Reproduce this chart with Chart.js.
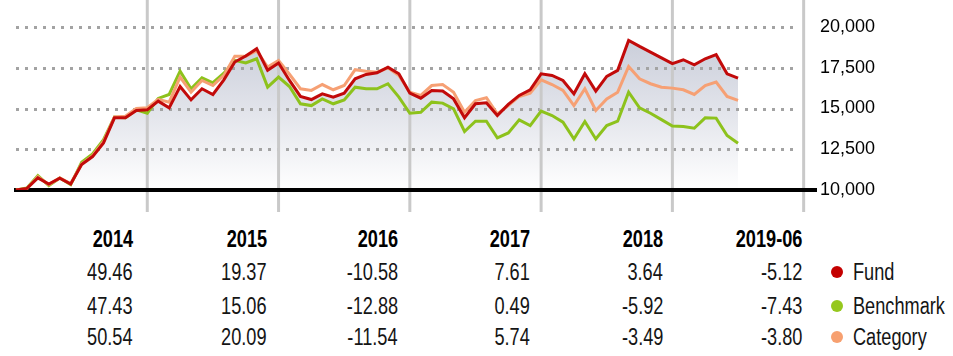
<!DOCTYPE html>
<html>
<head>
<meta charset="utf-8">
<script src="https://cdn.jsdelivr.net/npm/chart.js@4.4.0/dist/chart.umd.min.js"></script>
<style>
html,body{margin:0;padding:0;background:#fff;width:953px;height:356px;overflow:hidden;}
#wrap{position:absolute;left:0;top:0;width:953px;height:216px;}
.t{position:absolute;font-family:"Liberation Sans",Arial,sans-serif;font-size:23px;line-height:26px;color:#151515;text-align:right;white-space:nowrap;transform:scaleX(0.79);transform-origin:100% 50%;}
.h{font-weight:bold;color:#000;}
.lg{position:absolute;font-family:"Liberation Sans",Arial,sans-serif;font-size:23px;line-height:26px;color:#151515;white-space:nowrap;transform:scaleX(0.79);transform-origin:0 50%;}
.dot{position:absolute;width:12px;height:12px;border-radius:50%;}
</style>
</head>
<body>
<div id="wrap"><canvas id="c" width="953" height="216"></canvas></div>
<div id="table"></div>
<script>
// ---- data ----
const years = ['2014', '2015', '2016', '2017', '2018', '2019-06'];
const fundReturns = ['49.46', '19.37', '-10.58', '7.61', '3.64', '-5.12'];
const benchmarkReturns = ['47.43', '15.06', '-12.88', '0.49', '-5.92', '-7.43'];
const categoryReturns = ['50.54', '20.09', '-11.54', '5.74', '-3.49', '-3.80'];
const seriesNames = ['Fund', 'Benchmark', 'Category'];
const yTicks = [10000, 12500, 15000, 17500, 20000];

// growth of 10,000, month-end values from 2013-12 to 2019-06
const fund = [10000,10100,10740,10370,10720,10370,11560,12050,12890,14430,14430,14880,14920,15450,
  15040,16350,15530,16210,15860,16760,17850,18220,18670,17340,17790,
  16720,15740,15550,15900,15700,15940,16820,17090,17190,17540,17130,15940,
  15630,16110,16070,15590,14430,15290,15350,14570,15250,15800,16150,17130,
  17030,16720,15900,17130,16070,16970,17340,19180,18810,18460,18110,17750,
  17990,17680,18050,18300,17130,16860];
const benchmark = [10000,10120,10880,10270,10740,10330,11700,12210,13090,14470,14430,14920,14710,15620,
  15860,17290,16210,16880,16580,17170,17950,17790,18050,16310,16930,
  16350,15290,15180,15590,15290,15530,16310,16210,16210,16520,15700,14710,
  14770,15390,15330,14980,13590,14220,14220,13200,13500,14300,13950,14840,
  14570,14160,13130,14200,13130,13950,14220,16000,15040,14710,14320,13930,
  13890,13790,14430,14410,13340,12870];
const category = [10000,10080,10820,10330,10740,10400,11600,12100,12980,14480,14520,15000,15050,15560,
  15390,16930,16000,16720,16410,17030,18200,18200,18550,17540,17950,
  17100,16210,16110,16470,16150,16410,17380,17290,17230,17500,17030,16000,
  15800,16410,16470,16000,14770,15490,15660,14670,15180,15740,15940,16760,
  16470,16110,15180,16210,14880,15590,16000,17580,16820,16520,16310,16250,
  16150,15860,16410,16620,15740,15500];

const colors = {fund:'#c20a0a', benchmark:'#8dc21c', category:'#f6a074'};
const dotColors = ['#c40000', '#96c81e', '#f7a070'];

const pts = arr => arr.map((v, i) => ({x: i, y: v}));

const guides = {
  id: 'guides',
  beforeDatasetDraw(chart, args) {
    if (args.index !== chart.data.datasets.length - 1) return;
    const c = chart.ctx, xs = chart.scales.x, ys = chart.scales.y, ca = chart.chartArea;
    c.save();
    // dotted horizontal lines
    c.strokeStyle = '#a3a3a3';
    c.lineWidth = 3;
    c.setLineDash([3, 6]);
    yTicks.slice(1).forEach(v => {
      const y = Math.round(ys.getPixelForValue(v)) + 0.5;
      c.beginPath(); c.moveTo(ca.left + 2, y); c.lineTo(ca.right - 19, y); c.stroke();
    });
    c.setLineDash([]);
    // year separators
    c.strokeStyle = '#c9c9c9';
    c.lineWidth = 3;
    for (let k = 1; k <= years.length; k++) {
      const x = xs.getPixelForValue(k * 12);
      c.beginPath(); c.moveTo(x, 0); c.lineTo(x, 212); c.stroke();
    }
    // baseline
    c.strokeStyle = '#000';
    c.lineWidth = 4;
    const yb = ys.getPixelForValue(yTicks[0]);
    c.beginPath(); c.moveTo(ca.left, yb); c.lineTo(ca.right, yb); c.stroke();
    c.restore();
  }
};

new Chart(document.getElementById('c'), {
  type: 'line',
  data: {
    datasets: [
      {label: seriesNames[0], data: pts(fund), borderColor: colors.fund, borderWidth: 3, pointRadius: 0,
       fill: 'start',
       backgroundColor: (ctx) => {
         const ch = ctx.chart, ca = ch.chartArea;
         if (!ca) return 'rgba(0,0,0,0)';
         const g = ch.ctx.createLinearGradient(0, ca.top, 0, ca.bottom);
         g.addColorStop(0, '#c6cad7');
         g.addColorStop(0.5, '#e1e3ea');
         g.addColorStop(1, '#ffffff');
         return g;
       }},
      {label: seriesNames[2], data: pts(category), borderColor: colors.category, borderWidth: 3, pointRadius: 0, fill: false},
      {label: seriesNames[1], data: pts(benchmark), borderColor: colors.benchmark, borderWidth: 3, pointRadius: 0, fill: false}
    ]
  },
  options: {
    responsive: false,
    animation: false,
    layout: {padding: {left: 14, top: 27, bottom: 26, right: 0}},
    plugins: {legend: {display: false}, tooltip: {enabled: false}, filler: {drawTime: 'beforeDatasetsDraw'}},
    elements: {line: {tension: 0, borderJoinStyle: 'miter'}},
    scales: {
      x: {type: 'linear', display: false, min: -0.183, max: 73.22},
      y: {
        position: 'right', min: yTicks[0], max: yTicks[yTicks.length - 1],
        afterFit: s => { s.width = 136; },
        afterBuildTicks: s => { s.ticks = yTicks.map(v => ({value: v})); },
        grid: {display: false, drawTicks: false},
        border: {display: false},
        ticks: {padding: 3, color: '#000', font: {family: "'Liberation Sans', Arial, sans-serif", size: 18},
                callback: v => v.toLocaleString('en-US')}
      }
    }
  },
  plugins: [guides]
});

// ---- table & legend ----
const tbl = document.getElementById('table');
const rightEdges = [133, 267, 398, 530, 663, 802];
const rowTops = [226, 259, 293, 324];
function cell(text, right, top, cls) {
  const d = document.createElement('div');
  d.className = 't' + (cls ? ' ' + cls : '');
  d.textContent = text;
  d.style.right = (953 - right) + 'px';
  d.style.top = top + 'px';
  tbl.appendChild(d);
}
const rows = [fundReturns, benchmarkReturns, categoryReturns];
years.forEach((y, j) => {
  cell(y, rightEdges[j], rowTops[0], 'h');
  rows.forEach((r, k) => cell(r[j], rightEdges[j], rowTops[k + 1]));
});
seriesNames.forEach((n, k) => {
  const top = rowTops[k + 1];
  const dot = document.createElement('div');
  dot.className = 'dot';
  dot.style.left = '831px';
  dot.style.top = (top + 7) + 'px';
  dot.style.background = dotColors[k];
  tbl.appendChild(dot);
  const t = document.createElement('div');
  t.className = 'lg';
  t.textContent = n;
  t.style.left = '853px';
  t.style.top = top + 'px';
  tbl.appendChild(t);
});
</script>
</body>
</html>
